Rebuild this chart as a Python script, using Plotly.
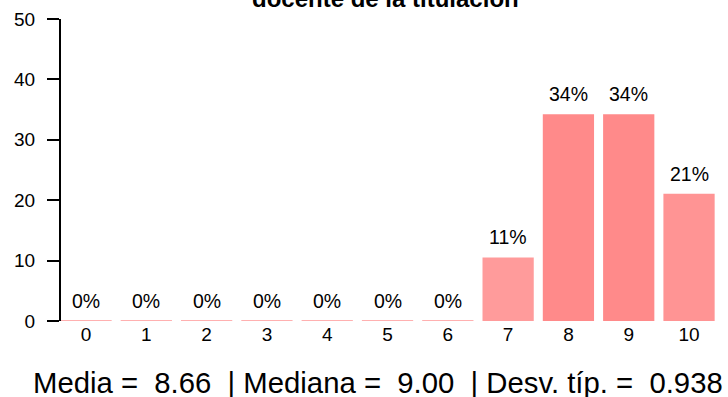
import numpy as np
import plotly.graph_objects as go

# Score scale 0-10 and number of responses per score
scores = list(range(11))
counts = [0, 0, 0, 0, 0, 0, 0, 4, 13, 13, 8]
bar_colors = ["#FFB0B0"] * 7 + ["#FF9B9B", "#FF8A8A", "#FF8A8A", "#FF9494"]
y_ticks = [0, 10, 20, 30, 40, 50]
title_line = "docente de la titulación"

total = sum(counts)
percent = [100.0 * c / total for c in counts]
labels = [f"{round(p):.0f}%" for p in percent]

# Summary statistics of the individual responses
responses = np.repeat(scores, counts)
mean = responses.mean()
median = np.median(responses)
sd = responses.std(ddof=1)
summary = f"Media =  {mean:.2f}  | Mediana =  {median:.2f}  | Desv. típ. =  {sd:.3f}"

FONT = "Liberation Sans, Arial, sans-serif"
W, H = 728, 397
L, R, T, B = 61, 6, 19, 76
plot_w = W - L - R
plot_h = H - T - B


def px_x(px):
    return (px - L) / plot_w


def px_y(py):
    return (H - B - py) / plot_h


fig = go.Figure()
fig.add_trace(go.Bar(
    x=scores,
    y=percent,
    width=0.85,
    marker=dict(
        color=bar_colors,
        line=dict(color=bar_colors, width=[2 if p == 0 else 0 for p in percent]),
    ),
    hoverinfo="skip",
))

annotations = []
for s, p, lab in zip(scores, percent, labels):
    annotations.append(dict(
        x=s, y=p, xref="x", yref="y", text=lab, showarrow=False,
        yanchor="bottom", yshift=7,
        font=dict(family=FONT, size=19.5, color="#000000"),
    ))

annotations.append(dict(
    x=px_x(378), y=px_y(382), xref="paper", yref="paper", text=summary,
    showarrow=False, xanchor="center", yanchor="middle",
    font=dict(family=FONT, size=29.3, color="#000000"),
))
annotations.append(dict(
    x=px_x(385.5), y=px_y(-1.6), xref="paper", yref="paper",
    text=f"<b>{title_line}</b>", showarrow=False,
    xanchor="center", yanchor="middle",
    font=dict(family=FONT, size=24, color="#000000"),
))

fig.update_layout(
    width=W, height=H,
    margin=dict(l=L, r=R, t=T, b=B, pad=0),
    paper_bgcolor="#FFFFFF", plot_bgcolor="#FFFFFF",
    showlegend=False,
    annotations=annotations,
    font=dict(family=FONT, color="#000000"),
)
fig.update_xaxes(
    range=[-0.415, -0.415 + plot_w / 60.3],
    tickmode="array", tickvals=scores, ticktext=[str(s) for s in scores],
    showgrid=False, zeroline=False, showline=False, ticks="",
    tickfont=dict(family=FONT, size=19, color="#000000"),
    fixedrange=True,
)
fig.update_yaxes(
    range=[0, 50],
    tickmode="array", tickvals=y_ticks,
    showgrid=False, zeroline=False,
    showline=True, linecolor="#000000", linewidth=2,
    ticks="outside", ticklen=12, tickwidth=2, tickcolor="#000000",
    ticklabelstandoff=8,
    tickfont=dict(family=FONT, size=19, color="#000000"),
    fixedrange=True,
)

fig.write_html("out.html")
